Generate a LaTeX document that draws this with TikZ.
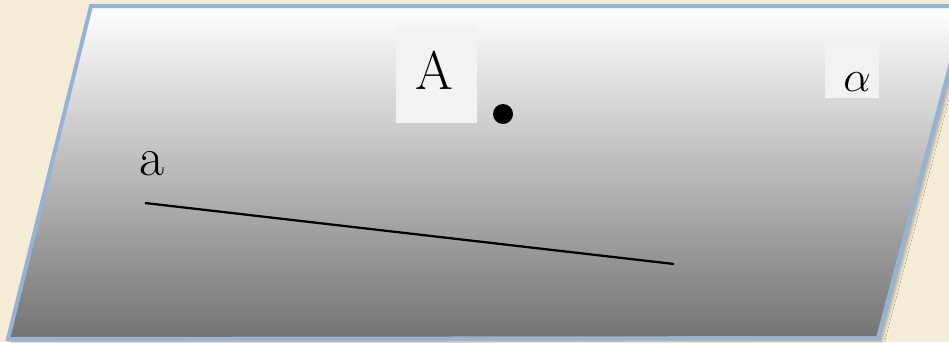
\documentclass[tikz,border=0pt]{standalone}
\usetikzlibrary{shadows.blur}

\definecolor{paper}{HTML}{F4ECD6}
\definecolor{edgeblue}{HTML}{95B3D7}
\definecolor{planebottom}{HTML}{737373}
\definecolor{boxgray}{HTML}{F2F2F2}

\tikzset{
  plane/.style={draw=edgeblue, line width=0.08cm, line join=miter,
    top color=white, bottom color=planebottom,
    blur shadow={shadow xshift=2pt, shadow yshift=-2pt, shadow blur steps=6, shadow opacity=30}},
  labelbox/.style={fill=boxgray, inner sep=0pt},
  lettertext/.style={font=\rmfamily\fontsize{31}{31}\selectfont, inner sep=0pt}
}

\begin{document}
\begin{tikzpicture}[x=0.02cm, y=-0.02cm]
  \fill[paper] (0,0) rectangle (949,342);
  \useasboundingbox (0,0) rectangle (949,342);
  % plane alpha
  \coordinate (P1) at (91,6);
  \coordinate (P2) at (966,6);
  \coordinate (P3) at (878,338);
  \coordinate (P4) at (8,339);
  \begin{scope}
    \clip (0,0) rectangle (949,342);
    \draw[plane] (P1) -- (P2) -- (P3) -- (P4) -- cycle;
  \end{scope}
  % point A
  \node[labelbox, minimum width=1.62cm, minimum height=1.96cm] (Abox) at (436.5,74) {};
  \node[lettertext] (A) at (434,70) {A};
  \fill (503,114) circle (0.2cm) coordinate (dotA);
  % label of the plane
  \node[labelbox, minimum width=1.08cm, minimum height=1.10cm] (alphabox) at (852,70.5) {};
  \node[lettertext, font=\fontsize{38}{38}\selectfont] (alpha) at (857,82) {$\alpha$};
  % line a
  \coordinate (a1) at (145,203);
  \coordinate (a2) at (674,264);
  \draw[line width=0.045cm] (a1) -- (a2);
  \node[lettertext] (a) at (152,164) {a};
\end{tikzpicture}
\end{document}
